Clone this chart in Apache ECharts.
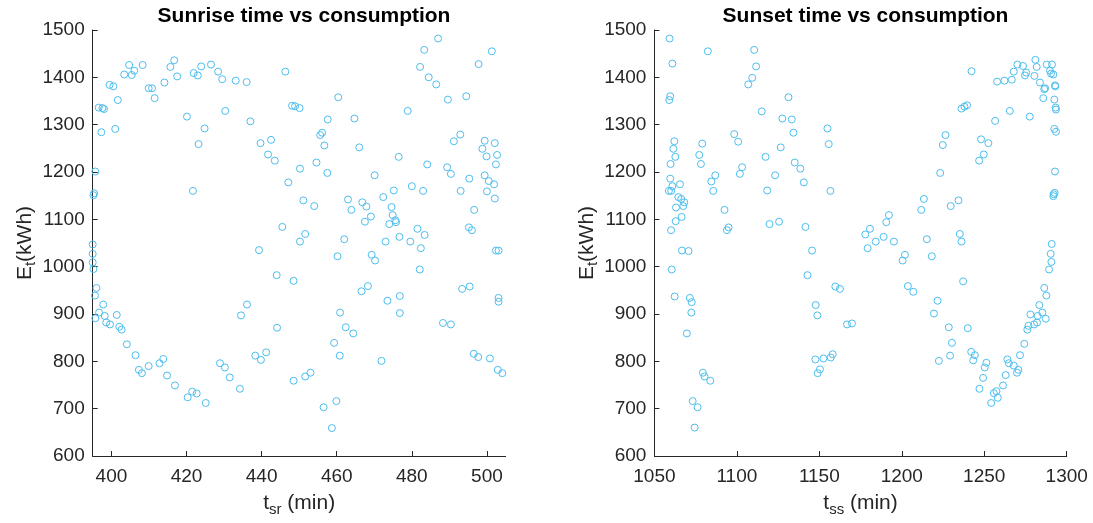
<!DOCTYPE html>
<html>
<head>
<meta charset="utf-8">
<script src="https://cdn.jsdelivr.net/npm/echarts@6/dist/echarts.min.js"></script>
<style>html,body{margin:0;padding:0;background:#fff}#c{width:1093px;height:523px}</style>
</head>
<body>
<div id="c"></div>
<script>
// ---- Data ----
const sunriseT = [404.7,403.4,405.4,406.1,408.3,399.5,400.5,401.7,396.6,397.6,398.0,397.3,401.0,409.9,410.8,411.5,414.1,415.7,416.7,417.5,421.9,423.0,423.9,426.5,428.4,429.5,433.1,436.0,446.3,420.1,430.3,424.8,423.2,437.0,439.7,442.5,441.7,443.5,450.2,447.1,451.1,421.7,395.7,395.4,395.2,445.5,450.2,395.0,448.1,448.9,450.1,
487.0,483.3,501.3,497.8,482.2,484.5,486.5,489.6,494.5,460.4,478.9,457.6,464.7,456.1,455.6,456.7,466.0,476.5,492.9,491.2,499.4,502.1,498.8,499.9,502.7,502.4,454.6,457.5,470.1,484.1,489.4,490.4,495.3,499.4,500.5,501.9,500.0,502.1,454.0,463.0,463.9,466.8,467.9,469.1,467.5,472.4,475.2,480.0,483.0,493.0,474.6,474.9,475.6,475.8,474.0,496.6,495.2,496.0,481.5,483.4,476.7,451.6,462.0,473.0,479.6,
395.0,395.0,395.2,396.0,395.6,397.8,396.7,398.2,395.7,398.6,399.6,401.4,402.1,402.7,404.1,406.4,407.3,408.1,409.9,412.8,413.8,414.8,416.9,420.3,421.5,422.7,425.1,428.9,430.2,431.5,434.2,434.5,436.1,438.3,439.8,441.2,439.3,444.0,448.5,444.1,448.5,451.6,
482.4,460.2,469.3,470.2,482.1,502.4,503.1,466.6,468.3,473.5,476.8,476.8,460.9,462.4,464.4,459.3,460.8,471.9,493.4,495.4,503.1,503.1,488.3,490.4,496.5,497.7,500.8,505.1,502.9,504.1,453.0,459.9,456.5,458.7];
const sunriseE = [1426,1406,1405,1414,1426,1384,1381,1352,1336,1335,1333,1284,1291,1377,1377,1356,1389,1422,1436,1402,1409,1404,1423,1427,1412,1396,1393,1390,1412,1317,1329,1292,1259,1307,1261,1268,1237,1224,1207,1178,1140,1160,1201,1155,1151,1084,1053,1047,1340,1339,1335,
1482,1458,1455,1428,1422,1400,1385,1353,1360,1358,1329,1311,1313,1283,1278,1256,1252,1232,1279,1265,1266,1261,1249,1233,1236,1216,1220,1198,1193,1216,1210,1196,1186,1193,1181,1174,1159,1144,1128,1142,1120,1136,1127,1106,1095,1147,1161,1170,1160,1160,1126,1109,1098,1094,1090,1120,1083,1077,1080,1067,1063,1069,1058,1053,1053,
1027,1009,995,955,939,920,903,896,891,882,878,898,873,867,836,813,782,775,790,796,805,770,749,724,736,732,712,796,787,766,742,897,920,812,803,819,1035,982,970,871,759,768,
1039,1022,1025,1013,994,1034,1034,948,959,928,938,902,903,872,859,839,812,801,953,958,934,926,881,878,816,809,806,804,782,775,776,716,703,659];

const sunsetT = [1059.2,1060.9,1082.4,1110.5,1111.7,1109.3,1106.9,1059.6,1059.0,1131.3,1115.1,1127.6,1133.3,1134.3,1154.9,1155.7,1098.4,1100.8,1126.6,1062.1,1061.5,1062.7,1079.0,1077.2,1078.2,1059.8,1117.4,1135.1,1138.5,1103.2,1101.8,1086.9,1084.5,1085.7,1123.2,1140.6,1118.4,1156.7,1059.6,1060.9,1058.8,1060.2,1065.5,1064.5,1066.3,1068.1,1067.5,1063.1,1066.5,1062.9,1060.1,1092.5,1095.0,1094.0,1119.8,1125.6,1141.6,
1242.3,1281.0,1270.1,1273.5,1281.8,1287.9,1291.1,1267.9,1275.4,1274.7,1280.4,1289.9,1291.9,1290.5,1257.8,1262.2,1266.7,1283.8,1286.9,1286.4,1292.9,1293.1,1285.8,1292.5,1293.3,1293.5,1236.2,1238.0,1239.6,1265.5,1256.6,1277.6,1292.5,1293.5,1226.5,1224.9,1248.1,1252.5,1249.7,1246.9,1223.3,1292.9,1292.7,1292.1,1291.9,1213.4,1211.8,1234.4,1229.7,1192.2,1190.6,1180.7,1177.9,1189.0,1184.2,1195.2,1215.2,1235.2,1236.2,1290.9,
1066.7,1070.7,1060.5,1062.3,1071.5,1072.6,1072.4,1069.7,1079.4,1080.4,1083.9,1073.2,1076.2,1074.4,1145.6,1142.8,1147.8,1148.8,1159.7,1162.5,1166.8,1169.8,1147.6,1152.5,1156.9,1158.1,1150.4,1149.0,
1179.3,1290.3,1290.7,1289.3,1201.9,1200.5,1218.2,1237.2,1203.7,1207.0,1221.7,1219.5,1228.5,1240.0,1230.4,1229.3,1222.5,1242.1,1244.3,1243.3,1251.3,1250.3,1249.3,1247.1,1255.8,1257.4,1258.2,1254.2,1261.4,1263.0,1264.0,1264.9,1267.9,1269.9,1270.7,1271.7,1274.3,1276.1,1276.8,1278.0,1280.2,1282.0,1282.4,1285.2,1287.3,1283.4,1286.4,1287.7];
const sunsetE = [1482,1429,1455,1458,1423,1399,1385,1360,1352,1358,1328,1313,1311,1283,1292,1259,1280,1264,1252,1265,1249,1232,1260,1236,1217,1217,1232,1220,1207,1210,1196,1193,1180,1160,1193,1178,1161,1160,1186,1170,1160,1160,1174,1147,1143,1136,1128,1125,1105,1096,1077,1120,1083,1077,1090,1095,1084,
1413,1437,1427,1424,1422,1427,1427,1412,1410,1404,1403,1414,1406,1408,1391,1393,1395,1389,1377,1375,1383,1381,1356,1353,1336,1332,1334,1338,1341,1329,1308,1317,1291,1285,1278,1257,1269,1261,1237,1224,1198,1201,1156,1153,1149,1143,1120,1140,1128,1109,1094,1080,1068,1063,1053,1053,1058,1069,1053,1048,
1034,1033,994,937,934,925,903,859,776,768,759,716,703,660,1034,982,919,897,958,953,878,880,804,806,808,815,783,775,
1039,1027,1010,994,1025,1013,1022,969,959,947,928,901,872,870,839,812,801,820,813,802,797,787,765,742,733,737,723,712,749,771,804,796,791,776,782,813,837,867,875,899,878,882,896,903,890,919,955,939];

const titles = ['Sunrise time vs consumption', 'Sunset time vs consumption'];
const sunriseTicks = [400, 420, 440, 460, 480, 500];
const sunsetTicks = [1050, 1100, 1150, 1200, 1250, 1300];

// ---- Chart ----
const FONT = 'Liberation Sans, Arial, Helvetica, sans-serif';
const INK = '#262626';
const MARK = '#4DBEEE';
const zip = (a, b) => a.map((v, i) => [v, b[i]]);

const nameRich = {
  a: {fontSize: 21, lineHeight: 24, verticalAlign: 'top', color: INK, fontFamily: FONT},
  b: {fontSize: 15, lineHeight: 15, verticalAlign: 'bottom', color: INK, fontFamily: FONT}
};
const plain = v => String(v);

function xAxis(idx, min, max, ticks, sub) {
  return {
    type: 'value', gridIndex: idx, min: min, max: max,
    name: '{a|t}{b|' + sub + '}{a| (min)}', nameLocation: 'middle', nameGap: 37,
    nameTextStyle: {rich: nameRich},
    axisLine: {show: true, onZero: false, lineStyle: {color: INK, width: 1}},
    axisTick: {show: true, inside: true, length: 5, lineStyle: {color: INK}, customValues: ticks},
    axisLabel: {show: true, fontSize: 19, color: INK, fontFamily: FONT, margin: 11, customValues: ticks, formatter: plain},
    splitLine: {show: false}
  };
}
function yAxis(idx) {
  return {
    type: 'value', gridIndex: idx, min: 600, max: 1500, interval: 100,
    name: '{a|E}{b|t}{a|(kWh)}', nameLocation: 'middle', nameGap: 48,
    nameTextStyle: {rich: nameRich},
    axisLine: {show: true, onZero: false, lineStyle: {color: INK, width: 1}},
    axisTick: {show: true, inside: true, length: 5, lineStyle: {color: INK}},
    axisLabel: {show: true, fontSize: 19, color: INK, fontFamily: FONT, margin: 8, showMinLabel: true, showMaxLabel: true, formatter: plain},
    splitLine: {show: false}
  };
}
function scatter(idx, xs, ys) {
  return {
    type: 'scatter', xAxisIndex: idx, yAxisIndex: idx,
    data: zip(xs, ys), symbol: 'circle', symbolSize: 7,
    itemStyle: {color: 'rgba(0,0,0,0)', borderColor: MARK, borderWidth: 1, opacity: 1},
    emphasis: {disabled: true}, silent: true
  };
}

const chart = echarts.init(document.getElementById('c'), null, {renderer: 'canvas'});
chart.setOption({
  animation: false,
  backgroundColor: '#fff',
  title: [
    {text: titles[0], left: 299, top: 1, textAlign: 'center', textStyle: {fontSize: 21, fontWeight: 'bold', color: '#000', fontFamily: FONT}},
    {text: titles[1], left: 860.5, top: 1, textAlign: 'center', textStyle: {fontSize: 21, fontWeight: 'bold', color: '#000', fontFamily: FONT}}
  ],
  grid: [
    {left: 92.7, top: 30, width: 413, height: 426, containLabel: false},
    {left: 654.4, top: 30, width: 412.3, height: 426, containLabel: false}
  ],
  xAxis: [xAxis(0, 395, 505, sunriseTicks, 'sr'), xAxis(1, 1050, 1300, sunsetTicks, 'ss')],
  yAxis: [yAxis(0), yAxis(1)],
  series: [scatter(0, sunriseT, sunriseE), scatter(1, sunsetT, sunsetE)]
});
</script>
</body>
</html>
